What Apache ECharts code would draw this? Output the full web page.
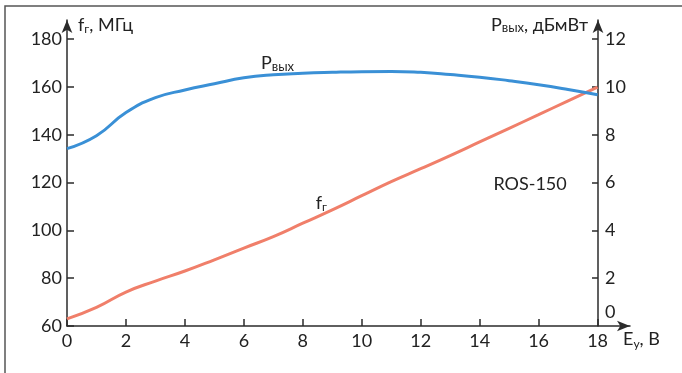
<!DOCTYPE html>
<html>
<head>
<meta charset="utf-8">
<script src="https://cdn.jsdelivr.net/npm/echarts@6/dist/echarts.min.js"></script>
<style>
  html, body { margin: 0; padding: 0; background: #fff; }
  #chart { width: 682px; height: 373px; }
</style>
</head>
<body>
<div id="chart"></div>
<script>
// Ey, B
var xValues = [0, 1, 2, 3, 4, 5, 6, 7, 8, 9, 10, 11, 12, 13, 14, 15, 16, 17, 18];
// f_г, МГц (left axis)
var freq = [63.0, 67.8, 74.2, 78.8, 83.0, 87.7, 92.6, 97.4, 103.0, 108.6, 114.5, 120.4, 125.8, 131.3, 137.0, 142.7, 148.4, 154.2, 159.9];
// P_вых, дБмВт (right axis)
var pout = [7.42, 7.96, 8.93, 9.55, 9.87, 10.13, 10.38, 10.51, 10.57, 10.61, 10.64, 10.65, 10.61, 10.52, 10.41, 10.26, 10.09, 9.89, 9.67];

var xTicks = [0, 2, 4, 6, 8, 10, 12, 14, 16, 18];
var leftTicks = [60, 80, 100, 120, 140, 160, 180];
var rightTicks = [0, 2, 4, 6, 8, 10, 12];

var FONT = 'Lato';
var TXT = '#222';
var AX = '#2b2b2b';
var FS = 18;

function pairs(ys) {
	return xValues.map(function(x, i) { return [x, ys[i]]; });
}

function sub(big, small) {
	return {
		m: { fontSize: FS, fontFamily: FONT, color: TXT, lineHeight: 20 },
		s: { fontSize: small, fontFamily: FONT, color: TXT, padding: [big, 0, 0, 0] }
	};
}

// invisible anchor for text notes placed at data coords
var noteStyle = {
	symbol: 'circle',
	symbolSize: 1,
	itemStyle: { color: 'rgba(0,0,0,0)' }
};

var chart = echarts.init(document.getElementById('chart'));
var option = {
	animation: false,
	textStyle: { fontFamily: FONT, color: TXT },
	grid: { left: 67, right: 52, top: 20, bottom: 47 },
	graphic: [
		{
			type: 'rect',
			shape: { x: 5, y: 6, width: 760, height: 460 },
			style: { fill: 'none', stroke: '#555', lineWidth: 1.5 },
			silent: true
		}
	],
	xAxis: {
		type: 'value',
		min: 0,
		max: 19.1,
		interval: 2,
		splitLine: { show: false },
		axisLine: {
			lineStyle: { color: AX, width: 1.5 },
			symbol: ['none', 'arrow'],
			symbolSize: [8, 13]
		},
		axisTick: { inside: true, length: 7, customValues: xTicks, lineStyle: { color: AX, width: 1.5 } },
		axisLabel: { customValues: xTicks, fontSize: FS, color: TXT, margin: 6 },
		name: '{m|E}{s|у}{m|, В}',
		nameLocation: 'end',
		nameGap: -7,
		nameTextStyle: {
			align: 'left',
			verticalAlign: 'top',
			padding: [3, 0, 0, 0],
			rich: sub(9, 12)
		}
	},
	yAxis: [
		{
			type: 'value',
			min: 60,
			max: 188,
			interval: 20,
			splitLine: { show: false },
			axisLine: {
				lineStyle: { color: AX, width: 1.5 },
				symbol: ['none', 'arrow'],
				symbolSize: [8, 13]
			},
			axisTick: { inside: true, length: 7, customValues: leftTicks, lineStyle: { color: AX, width: 1.5 } },
			axisLabel: { customValues: leftTicks, fontSize: FS, color: TXT, margin: 5 },
			name: '{m|f}{s|г}{m|, МГц}',
			nameLocation: 'end',
			nameGap: -5,
			nameTextStyle: {
				align: 'left',
				verticalAlign: 'middle',
				padding: [0, 0, 0, 11],
				rich: sub(9, 12)
			}
		},
		{
			type: 'value',
			min: 0,
			max: 12.8,
			interval: 2,
			offset: -32,
			splitLine: { show: false },
			axisLine: {
				lineStyle: { color: AX, width: 1.5 },
				symbol: ['none', 'arrow'],
				symbolSize: [8, 13]
			},
			axisTick: { inside: true, length: 6, customValues: rightTicks.slice(1), lineStyle: { color: AX, width: 1.5 } },
			axisLabel: {
				customValues: rightTicks,
				fontSize: FS,
				color: TXT,
				margin: 7,
				formatter: function(v) {
					return v === 0 ? '{z|0}' : String(v);
				},
				rich: {
					z: { fontSize: FS, fontFamily: FONT, color: TXT, padding: [0, 0, 28, 0] }
				}
			},
			name: '{m|P}{s|вых}{m|, дБмВт}',
			nameLocation: 'end',
			nameGap: -5,
			nameTextStyle: {
				align: 'right',
				verticalAlign: 'middle',
				padding: [0, 10, 0, 0],
				rich: sub(6, 13)
			}
		}
	],
	series: [
		{
			name: 'f',
			type: 'line',
			yAxisIndex: 0,
			smooth: 0.5,
			showSymbol: false,
			lineStyle: { color: '#f07f6a', width: 3 },
			data: pairs(freq),
			markPoint: Object.assign({}, noteStyle, {
				label: {
					show: true,
					position: 'inside',
					formatter: '{m|f}{s|г}',
					rich: sub(9, 12)
				},
				data: [
					{ coord: [8.63, 111.5] },
					{ coord: [15.71, 119.4], label: { formatter: 'ROS-150', fontSize: FS, fontFamily: FONT, color: TXT } }
				]
			})
		},
		{
			name: 'P',
			type: 'line',
			yAxisIndex: 1,
			smooth: 0.5,
			showSymbol: false,
			lineStyle: { color: '#3a90d6', width: 3 },
			data: pairs(pout),
			markPoint: Object.assign({}, noteStyle, {
				label: {
					show: true,
					position: 'inside',
					formatter: '{m|P}{s|вых}',
					rich: sub(6, 13)
				},
				data: [{ coord: [7.14, 10.98] }]
			})
		}
	]
};
chart.setOption(option);
</script>
</body>
</html>
